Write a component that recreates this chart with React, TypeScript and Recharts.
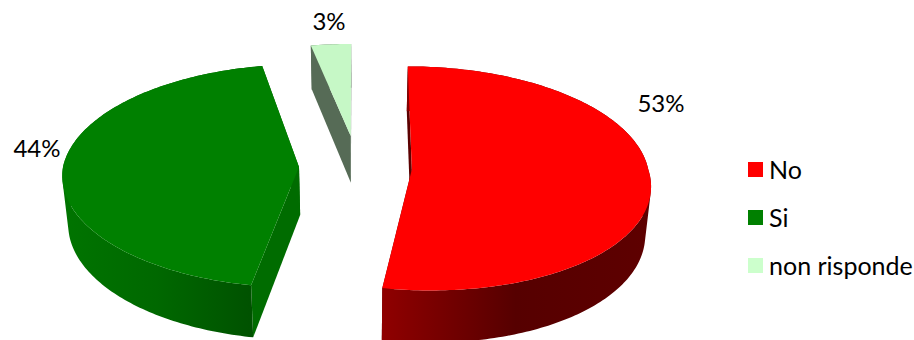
import { PieChart, Pie, Legend } from "recharts";

const categories = ["No", "Si", "non risponde"];
const shares = [53, 44, 3];
const topColors = ["#ff0000", "#008000", "#c6f8c6"];
const legendColors = ["#ff0000", "#008000", "#ccffcc"];
const faceColors = ["#5c0000", "#006c00", "#566b56"];
const rimStops = [
    ["#900000", "#560000", "#5e0000"],
    ["#007400", "#006800", "#005200"],
    ["#566b56", "#566b56", "#566b56"],
];
const rimRanges = [
    [381, 650],
    [64, 250],
    [309, 351],
];
const explodes = [55, 58, 68];
// the front of a slice leans sideways and the far slice is a little flatter
const frontLeans = [0.055, 0.02, 0];
const depthScales = [1, 1, 0.93];
const labelAnchors = [
    [661, 112],
    [37, 157],
    [329, 30],
];

const data = categories.map((name, i) => ({
    name,
    value: shares[i],
    fill: legendColors[i],
}));

const DEPTH = 48;
const CAMERA = 2950;
const TILT = 0.47;
const Z_CONVERGE = 2400;
const FONT = "Lato, sans-serif";

// pie-plane point (u to the right, v towards the viewer) to screen
const project = (cx: number, cy: number, u: number, v: number, z = 0) => {
    const w = 1 / (1 - v / CAMERA);
    return [cx + u * w * (1 - z / Z_CONVERGE), cy + TILT * v * w + z * w];
};

const toPath = (points: number[][]) =>
    "M" + points.map((p) => `${p[0].toFixed(2)},${p[1].toFixed(2)}`).join("L") + "Z";

// quads wound the same way, so a shared path keeps them all filled where the rim folds
const windQuad = (quad: number[][]) => {
    let area = 0;
    quad.forEach((p, i) => {
        const q = quad[(i + 1) % quad.length];
        area += p[0] * q[1] - q[0] * p[1];
    });
    return area < 0 ? quad.slice().reverse() : quad;
};

const Slice3D = (props: any) => {
    const { cx, cy, outerRadius, startAngle, endAngle, midAngle, index } = props;
    const clock = (a: number) => ((90 - a) * Math.PI) / 180;
    const ox = explodes[index] * Math.sin(clock(midAngle));
    const oy = -explodes[index] * Math.cos(clock(midAngle));

    const from = Math.min(clock(startAngle), clock(endAngle));
    const to = Math.max(clock(startAngle), clock(endAngle));
    const arc: number[][] = [];
    const steps = Math.max(4, Math.ceil(((to - from) * 180) / Math.PI));
    for (let s = 0; s <= steps; s++) {
        const t = from + ((to - from) * s) / steps;
        const dv = -outerRadius * Math.cos(t) * depthScales[index];
        const du = outerRadius * Math.sin(t) + frontLeans[index] * Math.max(dv, 0);
        arc.push([ox + du, oy + dv]);
    }

    const top = arc.map((p) => project(cx, cy, p[0], p[1]));
    const low = arc.map((p) => project(cx, cy, p[0], p[1], DEPTH));
    const apex = project(cx, cy, ox, oy);
    const apexLow = project(cx, cy, ox, oy, DEPTH);
    const gradId = `rim-${index}`;
    const rimPath = top
        .slice(1)
        .map((p, i) => toPath(windQuad([top[i], p, low[i + 1], low[i]])))
        .join("");

    return (
        <g>
            <defs>
                <linearGradient
                    id={gradId}
                    gradientUnits="userSpaceOnUse"
                    x1={rimRanges[index][0]}
                    x2={rimRanges[index][1]}
                    y1={0}
                    y2={0}
                >
                    <stop offset="0%" stopColor={rimStops[index][0]} />
                    <stop offset="50%" stopColor={rimStops[index][1]} />
                    <stop offset="100%" stopColor={rimStops[index][2]} />
                </linearGradient>
            </defs>
            <path
                d={toPath([apex, top[0], low[0], apexLow])}
                fill={faceColors[index]}
            />
            <path
                d={toPath([apex, top[top.length - 1], low[low.length - 1], apexLow])}
                fill={faceColors[index]}
            />
            <path d={rimPath} fill={`url(#${gradId})`} />
            <path d={toPath([apex, ...top])} fill={topColors[index]} />
        </g>
    );
};

const renderLabel = (props: any) => {
    const [x, y] = labelAnchors[props.index];
    return (
        <text x={x} y={y} textAnchor="middle" fontFamily={FONT} fontSize={24} fill="#000000">
            {props.value}%
        </text>
    );
};

const renderLegend = (props: any) => (
    <div>
        {props.payload.map((entry: any) => (
            <div
                key={entry.value}
                style={{
                    display: "flex",
                    alignItems: "center",
                    height: 48,
                    fontFamily: FONT,
                    fontSize: 25,
                    color: "#000000",
                    whiteSpace: "nowrap",
                }}
            >
                <span
                    style={{
                        width: 15,
                        height: 15,
                        marginRight: 6,
                        background: entry.color,
                    }}
                />
                {entry.value}
            </div>
        ))}
    </div>
);

const App = () => {
    return (
        <div style={{ position: "absolute", left: 0, top: 0, width: 914, height: 340, background: "#fff" }}>
            <PieChart width={914} height={340} margin={{ top: 0, right: 0, bottom: 0, left: 0 }}>
                <Pie
                    data={data}
                    dataKey="value"
                    nameKey="name"
                    cx={357}
                    cy={167}
                    outerRadius={236}
                    startAngle={90}
                    endAngle={-270}
                    stroke="none"
                    shape={Slice3D}
                    label={renderLabel}
                    labelLine={false}
                    isAnimationActive={false}
                />
                <Legend
                    content={renderLegend}
                    wrapperStyle={{ position: "absolute", left: 748, top: 145, width: 166 }}
                />
            </PieChart>
        </div>
    );
};

export default App;
